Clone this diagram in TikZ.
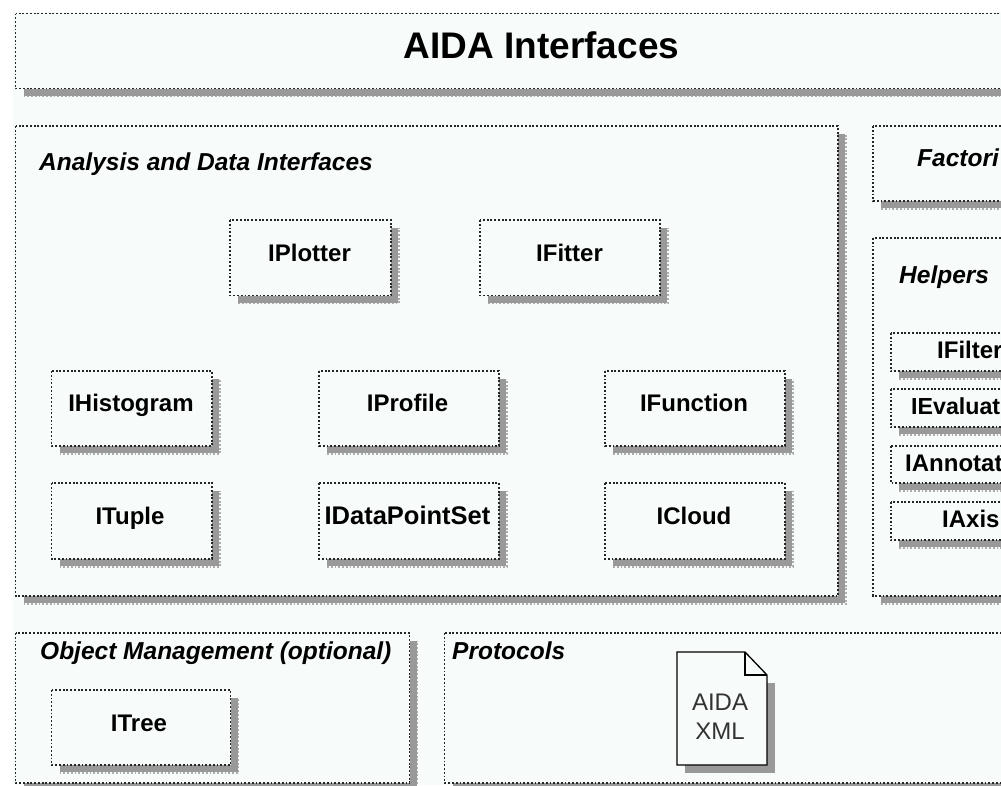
\documentclass[tikz,border=0pt]{standalone}
\usepackage{fontspec}
\setmainfont{Liberation Sans}
\definecolor{paperbg}{HTML}{F7FBF9}
\definecolor{shadowgrey}{HTML}{999999}
\tikzset{
  x=1pt,y=-1pt,
  dotline/.style={draw=black!85,line width=1.6pt,dash pattern=on 1.9pt off 1.85pt},
  fringe/.style={draw=shadowgrey!80,line width=1.5pt,dash pattern=on 1.9pt off 1.85pt},
  boxlabel/.style={anchor=base,inner sep=0pt,font=\fontsize{24}{24}\bfseries\selectfont},
  headlabel/.style={anchor=base west,inner sep=0pt,font=\fontsize{24.5}{24.5}\bfseries\itshape\selectfont},
  titlelabel/.style={anchor=base,inner sep=0pt,font=\fontsize{37}{37}\bfseries\selectfont},
  doclabel/.style={anchor=base,inner sep=0pt,text=black!80,font=\fontsize{24}{24}\selectfont},
}
% #1 name, #2 x1, #3 y1, #4 x2, #5 y2
\newcommand{\shadedbox}[5]{%
  \fill[shadowgrey] (#2+8,#3+8) rectangle (#4+7,#5+7);
  \path[fringe] (#2+8,#5+8) -- (#4+8,#5+8) -- (#4+8,#3+8);
  \fill[paperbg] (#2,#3) rectangle (#4,#5);
  \path[dotline] (#2,#3) rectangle (#4,#5);
  \coordinate (#1) at ({(#2+#4)/2},{(#3+#5)/2});
}
\begin{document}
\begin{tikzpicture}
\useasboundingbox (0,0) rectangle (1001,785);
\clip (0,0) rectangle (1001,785);
\fill[white] (0,0) rectangle (1001,785);
\fill[paperbg] (13,12) rectangle (1001,785);

\shadedbox{title}{15.5}{13.5}{1068}{88.5}
\node[titlelabel] (titletext) at (541.5,58) {AIDA Interfaces};

\shadedbox{analysis}{15.5}{126}{838}{596}
\node[headlabel] (analysistext) at (39,170) {Analysis and Data Interfaces};
\shadedbox{factories}{873}{126}{1100}{201}
\node[headlabel] (factoriestext) at (917,166) {Factori};
\shadedbox{helpers}{873}{238}{1100}{596}
\node[headlabel] (helperstext) at (899,283) {Helpers};

\shadedbox{plotter}{230}{220}{391}{295.5}
\node[boxlabel] (plottertext) at (309.5,261) {IPlotter};
\shadedbox{fitter}{480}{220}{660}{295.5}
\node[boxlabel] (fittertext) at (569.5,261) {IFitter};

\shadedbox{histogram}{51.5}{371}{212}{446}
\node[boxlabel] (histogramtext) at (131,411.5) {IHistogram};
\shadedbox{profile}{319}{371}{499}{446}
\node[boxlabel] (profiletext) at (407.5,411.5) {IProfile};
\shadedbox{function}{605}{371}{785}{446}
\node[boxlabel] (functiontext) at (694,411.5) {IFunction};

\shadedbox{tuple}{51.5}{483}{212}{559}
\node[boxlabel] (tupletext) at (130,524) {ITuple};
\shadedbox{datapoint}{319}{483}{499}{559}
\node[boxlabel,font=\fontsize{25.5}{25.5}\bfseries\selectfont] (datapointtext) at (407.5,524) {IDataPointSet};
\shadedbox{cloud}{605}{483}{785}{559}
\node[boxlabel] (cloudtext) at (694,524) {ICloud};

\shadedbox{filter}{891}{333}{1050}{371}
\node[boxlabel,anchor=base west] (filtertext) at (937,358) {IFilter};
\shadedbox{evaluator}{891}{389}{1050}{427}
\node[boxlabel,anchor=base west,font=\fontsize{23.2}{23.2}\bfseries\selectfont] (evaluatortext) at (911,414) {IEvaluat};
\shadedbox{annotation}{891}{446}{1050}{483}
\node[boxlabel,anchor=base west] (annotationtext) at (905,471) {IAnnotat};
\shadedbox{axis}{891}{502}{1050}{540}
\node[boxlabel,anchor=base west] (axistext) at (942,527) {IAxis};

\shadedbox{objmgmt}{15.5}{633}{409.5}{783}
\node[headlabel] (objmgmttext) at (40,659) {Object Management (optional)};
\shadedbox{tree}{51.5}{690}{230.5}{765}
\node[boxlabel] (treetext) at (139,731) {ITree};

\shadedbox{protocols}{444.5}{633}{1100}{783}
\node[headlabel] (protocolstext) at (452,659) {Protocols};

% document icon
\fill[shadowgrey] (685,683) -- (775,683) -- (775,773) -- (685,773) -- cycle;
\path[draw=black,line width=1.3pt,fill=paperbg]
  (677,652) -- (745,652) -- (767,675) -- (767,765) -- (677,765) -- cycle;
\draw[line width=1.3pt] (745,652) -- (745,675) -- (767,675);
\node[doclabel] (docline1) at (720,710) {AIDA};
\node[doclabel] (docline2) at (720,739) {XML};
\end{tikzpicture}
\end{document}
